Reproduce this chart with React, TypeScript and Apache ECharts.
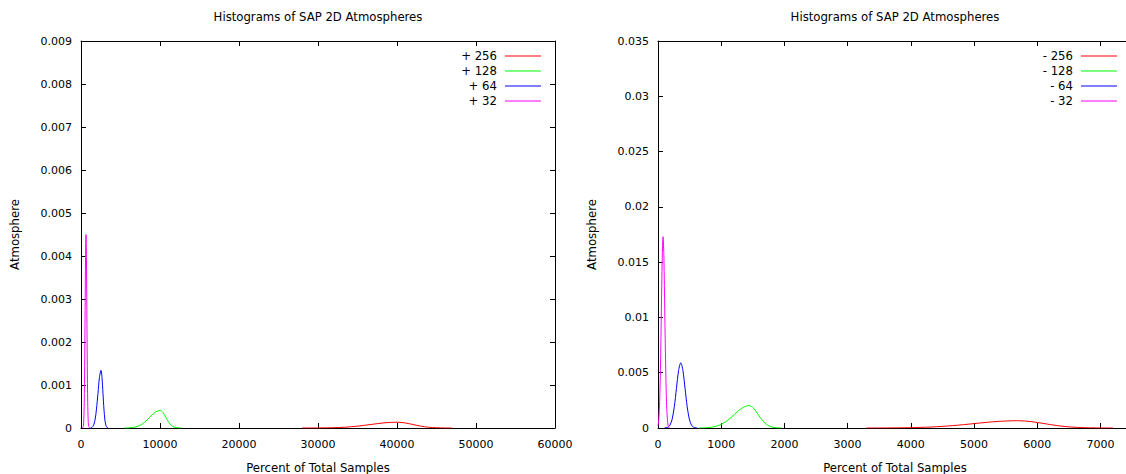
import React, { useEffect, useRef } from 'react';
import * as echarts from 'echarts';

const chartTitle = 'Histograms of SAP 2D Atmospheres';
const xAxisName = 'Percent of Total Samples';
const yAxisName = 'Atmosphere';

const posNames = ['+ 256', '+ 128', '+ 64', '+ 32'];
const negNames = ['- 256', '- 128', '- 64', '- 32'];
const seriesColors = ['#ff0000', '#00ff00', '#0000ff', '#ff00ff'];

// left chart (+)
const pos256 = [[28000, 0], [30100, 0.0000015], [31750, 0.000006], [33400, 0.000018], [35050, 0.000044], [36700, 0.000082], [38350, 0.000119], [40000, 0.000135], [41000, 0.000119], [42000, 0.000082], [43000, 0.000044], [44000, 0.000018], [45000, 0.000006], [46000, 0.0000015], [47000, 0]];
const pos128 = [[5500, 0], [6100, 0.000005], [6750, 0.000018], [7400, 0.000055], [8050, 0.000133], [8700, 0.000249], [9350, 0.000362], [10000, 0.00041], [10370, 0.000362], [10730, 0.000249], [11100, 0.000133], [11460, 0.000055], [11830, 0.000018], [12200, 0.000005], [12700, 0]];
const pos64 = [[1200, 0], [1390, 0.000015], [1580, 0.00006], [1770, 0.00018], [1960, 0.00044], [2150, 0.00081], [2340, 0.00118], [2530, 0.00134], [2655, 0.00118], [2780, 0.00081], [2905, 0.00044], [3030, 0.00018], [3155, 0.00006], [3280, 0.000015], [3450, 0]];
const pos32 = [[200, 0], [300, 0.00005], [355, 0.0002], [410, 0.0006], [465, 0.00146], [520, 0.00273], [575, 0.00397], [630, 0.0045], [685, 0.00397], [740, 0.00273], [795, 0.00146], [850, 0.0006], [905, 0.0002], [960, 0.00005], [1100, 0]];

// right chart (-)
const neg256 = [[3300, 0], [3635, 0.000007], [3977, 0.000029], [4320, 0.000089], [4662, 0.000214], [5005, 0.0004], [5347, 0.000582], [5690, 0.00066], [5900, 0.000582], [6110, 0.0004], [6320, 0.000214], [6530, 0.000089], [6740, 0.000029], [6950, 0.000007], [7200, 0]];
const neg128 = [[650, 0], [750, 0.000023], [865, 0.000089], [980, 0.000275], [1095, 0.00066], [1210, 0.00123], [1325, 0.00179], [1440, 0.00203], [1512, 0.00179], [1584, 0.00123], [1656, 0.00066], [1728, 0.000275], [1800, 0.000089], [1872, 0.000023], [1950, 0]];
const neg64 = [[100, 0], [156, 0.00007], [190, 0.00026], [224, 0.0008], [258, 0.00192], [292, 0.00358], [326, 0.00521], [360, 0.0059], [394, 0.00521], [428, 0.00358], [462, 0.00192], [496, 0.0008], [530, 0.00026], [564, 0.00007], [620, 0]];
const neg32 = [[0, 0.0002], [13, 0.0008], [26, 0.0024], [40, 0.0057], [53, 0.0105], [67, 0.0153], [80, 0.0173], [94, 0.0153], [107, 0.0105], [121, 0.0057], [134, 0.0024], [148, 0.0008], [161, 0.0002], [180, 0]];

const leftXRange = { min: 0, max: 60000, interval: 10000 };
const leftYRange = { min: 0, max: 0.009, interval: 0.001 };
const rightXRange = { min: 0, max: 7500, interval: 1000 };
const rightYRange = { min: 0, max: 0.035, interval: 0.005 };

const FONT = 'DejaVu Sans';
const INK = '#000';
const NAME_SIZE = 11.7;

function fmt(v: number) {
  return String(Math.round(v * 1e6) / 1e6);
}

function xAxes(gridIndex: number, r: any, hideMax: boolean) {
  const common = {
    type: 'value', gridIndex, min: r.min, max: r.max, interval: r.interval,
    splitLine: { show: false },
    axisLine: { show: true, onZero: false, lineStyle: { color: INK, width: 1 } },
    axisTick: { show: true, inside: true, length: 5, lineStyle: { color: INK, width: 1 } },
  };
  return [
    {
      ...common, position: 'bottom',
      name: xAxisName, nameLocation: 'middle', nameGap: 34,
      nameTextStyle: { fontFamily: FONT, fontSize: NAME_SIZE, color: INK },
      axisLabel: { fontFamily: FONT, fontSize: 11, color: INK, margin: 11, formatter: fmt, showMaxLabel: !hideMax },
    },
    { ...common, position: 'top', axisLabel: { show: false } },
  ];
}

function yAxes(gridIndex: number, r: any) {
  const common = {
    type: 'value', gridIndex, min: r.min, max: r.max, interval: r.interval,
    splitLine: { show: false },
    axisLine: { show: true, onZero: false, lineStyle: { color: INK, width: 1 } },
    axisTick: { show: true, inside: true, length: 5, lineStyle: { color: INK, width: 1 } },
  };
  return [
    {
      ...common, position: 'left',
      name: yAxisName, nameLocation: 'middle', nameGap: 60, nameRotate: 90,
      nameTextStyle: { fontFamily: FONT, fontSize: NAME_SIZE, color: INK },
      axisLabel: { fontFamily: FONT, fontSize: 11, color: INK, margin: 9, formatter: fmt },
    },
    { ...common, position: 'right', axisLabel: { show: false } },
  ];
}

function makeSeries(names: string[], datas: number[][][], xi: number, yi: number) {
  return names.map((n, i) => ({
    name: n, type: 'line', xAxisIndex: xi, yAxisIndex: yi, data: datas[i],
    smooth: 0.3, symbol: 'none', showSymbol: false,
    lineStyle: { width: 1, color: seriesColors[i] },
    itemStyle: { color: seriesColors[i] },
    emphasis: { disabled: true },
  }));
}

function legendCfg(names: string[], right: number) {
  return {
    data: names.map((n) => ({ name: n, icon: 'rect' })),
    orient: 'vertical', right, top: 45, align: 'right',
    itemWidth: 36, itemHeight: 1, itemGap: 3, selectedMode: false,
    textStyle: { fontFamily: FONT, fontSize: NAME_SIZE, color: INK, padding: [0, 3, 0, 0] },
  };
}

export default function App() {
  const ref = useRef<HTMLDivElement>(null);
  useEffect(() => {
    if (!ref.current) return;
    const chart = echarts.init(ref.current, null, { renderer: 'svg' });
    chart.setOption({
      animation: false,
      backgroundColor: '#fff',
      grid: [
        { left: 81, top: 41, width: 474, height: 387, containLabel: false, outerBoundsMode: 'none' },
        { left: 658, top: 41, width: 474, height: 387, containLabel: false, outerBoundsMode: 'none' },
      ],
      xAxis: [...xAxes(0, leftXRange, false), ...xAxes(1, rightXRange, true)],
      yAxis: [...yAxes(0, leftYRange), ...yAxes(1, rightYRange)],
      legend: [legendCfg(posNames, 580), legendCfg(negNames, 4)],
      graphic: [
        { type: 'text', x: 318, y: 17, style: { text: chartTitle, x: 0, y: 0, align: 'center', verticalAlign: 'middle', font: `${NAME_SIZE}px "${FONT}"`, fill: INK } },
        { type: 'text', x: 895, y: 17, style: { text: chartTitle, x: 0, y: 0, align: 'center', verticalAlign: 'middle', font: `${NAME_SIZE}px "${FONT}"`, fill: INK } },
      ],
      series: [
        ...makeSeries(posNames, [pos256, pos128, pos64, pos32], 0, 0),
        ...makeSeries(negNames, [neg256, neg128, neg64, neg32], 2, 2),
      ],
    });
    return () => chart.dispose();
  }, []);
  return <div ref={ref} style={{ position: 'absolute', left: 0, top: 0, width: 1126, height: 474 }} />;
}
